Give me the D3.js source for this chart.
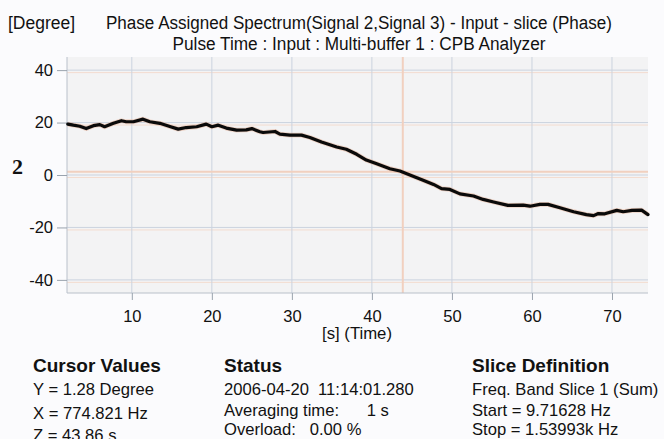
<!DOCTYPE html>
<html><head><meta charset="utf-8">
<script src="https://cdn.jsdelivr.net/npm/d3@7"></script>
<style>
html,body{margin:0;padding:0;background:#fbfbfd;}
svg{display:block;font-family:"Liberation Sans",Arial,Helvetica,sans-serif;}
</style></head>
<body><svg id="c" width="664" height="439"></svg>
<script>
// ---- data ----
const times = [2.0, 2.7, 3.5, 4.3, 5.2, 6.0, 6.6, 7.7, 8.7, 9.3, 10.2, 11.4, 12.25, 13.5, 14.75, 15.8, 16.8, 18.1, 19.3, 20.0, 20.8, 21.8, 23.1, 24.3, 25.0, 26.0, 26.4, 27.9, 28.5, 29.75, 31.2, 32.25, 33.7, 35.6, 36.8, 38.1, 39.3, 40.6, 42.25, 43.5, 44.75, 46.4, 47.7, 48.7, 49.75, 51.0, 52.7, 53.9, 55.2, 57.0, 58.9, 59.75, 61.0, 62.0, 63.5, 65.2, 66.8, 67.7, 68.3, 69.1, 70.6, 71.4, 72.5, 73.7, 74.5];
const phase = [19.4, 19.0, 18.6, 17.7, 18.8, 19.2, 18.4, 19.7, 20.7, 20.3, 20.3, 21.3, 20.3, 19.7, 18.5, 17.5, 18.1, 18.4, 19.4, 18.4, 19.0, 17.9, 17.1, 17.2, 17.7, 16.5, 16.2, 16.6, 15.6, 15.2, 15.2, 14.3, 12.6, 10.7, 9.8, 7.9, 5.7, 4.3, 2.4, 1.5, 0.0, -2.0, -3.6, -5.2, -5.5, -7.2, -8.0, -9.3, -10.3, -11.6, -11.5, -11.9, -11.2, -11.2, -12.5, -14.0, -15.1, -15.5, -14.7, -14.8, -13.5, -14.0, -13.5, -13.4, -15.1];
const xTicks = [10, 20, 30, 40, 50, 60, 70];
const yTicks = [-40, -20, 0, 20, 40];
const xDomain = [1.9, 74.5];
const yDomain = [-45, 45];
const cursorZ = 43.86;
const cursorY = 1.28;
const titleLines = ["Phase Assigned Spectrum(Signal 2,Signal 3) - Input - slice (Phase)", "Pulse Time : Input : Multi-buffer 1 : CPB Analyzer"];
const yUnit = "[Degree]";
const xLabel = "[s] (Time)";
const panels = [
  {head: "Cursor Values", lines: ["Y = 1.28 Degree", "X = 774.821 Hz", "Z = 43.86 s"]},
  {head: "Status", lines: ["2006-04-20  11:14:01.280", "Averaging time:      1 s", "Overload:   0.00 %"]},
  {head: "Slice Definition", lines: ["Freq. Band Slice 1 (Sum)", "Start = 9.71628 Hz", "Stop = 1.53993k Hz"]}
];

// ---- layout ----
const L = 67, R = 648, T = 57, B = 293;
const svg = d3.select("#c");
const x = d3.scaleLinear().domain(xDomain).range([L, R]);
const y = d3.scaleLinear().domain(yDomain).range([B, T]);
const fmt = d => String(d); // hyphen-minus like the reference

svg.append("rect").attr("x", L).attr("y", T).attr("width", R - L).attr("height", B - T).attr("fill", "#f3f3f4");

// grid
svg.append("g").selectAll("line").data(yTicks).join("line")
  .attr("x1", L).attr("x2", R).attr("y1", d => y(d) + 2.5).attr("y2", d => y(d) + 2.5)
  .attr("stroke", "#f3dcd0").attr("stroke-width", 1);
svg.append("g").selectAll("line").data(yTicks).join("line")
  .attr("x1", L).attr("x2", R).attr("y1", d => y(d)).attr("y2", d => y(d))
  .attr("stroke", "#cbd3df").attr("stroke-width", 1);
svg.append("g").selectAll("line").data(xTicks).join("line")
  .attr("y1", T).attr("y2", B).attr("x1", d => x(d)).attr("x2", d => x(d))
  .attr("stroke", "#cbd3df").attr("stroke-width", 1);

// cursor crosshair
svg.append("line").attr("x1", x(cursorZ)).attr("x2", x(cursorZ)).attr("y1", T).attr("y2", B)
  .attr("stroke", "#f1d0bf").attr("stroke-width", 2);
svg.append("line").attr("x1", L).attr("x2", R).attr("y1", y(cursorY)).attr("y2", y(cursorY))
  .attr("stroke", "#f1d0bf").attr("stroke-width", 2);

// border
svg.append("line").attr("x1", L).attr("x2", L).attr("y1", T).attr("y2", B).attr("stroke", "#b9c0ca");
svg.append("line").attr("x1", L).attr("x2", R).attr("y1", B).attr("y2", B).attr("stroke", "#b9c0ca");

// axes
const ya = svg.append("g").attr("transform", `translate(${L},0)`)
  .call(d3.axisLeft(y).tickValues(yTicks).tickSize(10).tickPadding(4).tickFormat(fmt));
const xa = svg.append("g").attr("transform", `translate(0,${B})`)
  .call(d3.axisBottom(x).tickValues(xTicks).tickSize(7).tickPadding(10).tickFormat(fmt));
[ya, xa].forEach(g => {
  g.select(".domain").remove();
  g.selectAll(".tick line").attr("stroke", "#9aa3ae");
  g.selectAll(".tick text").attr("fill", "#111").attr("font-size", 16.5)
    .attr("font-family", "'Liberation Sans',Arial,sans-serif");
});

// line
const data = times.map((t, i) => ({t, v: phase[i]}));
const line = d3.line().x(d => x(d.t)).y(d => y(d.v));
svg.append("path").datum(data).attr("d", line).attr("fill", "none")
  .attr("stroke", "#e8b49a").attr("stroke-width", 4.8).attr("stroke-linejoin", "round").attr("opacity", 0.55);
svg.append("path").datum(data).attr("d", line).attr("fill", "none")
  .attr("stroke", "#0a0a0a").attr("stroke-width", 3.2).attr("stroke-linejoin", "round").attr("stroke-linecap", "round");

// titles
svg.append("text").attr("x", 8).attr("y", 29).attr("font-size", 18).attr("fill", "#111")
  .attr("textLength", 67).attr("lengthAdjust", "spacingAndGlyphs").text(yUnit);
svg.append("text").attr("x", 359).attr("y", 29).attr("font-size", 18).attr("fill", "#111")
  .attr("text-anchor", "middle").attr("textLength", 506).attr("lengthAdjust", "spacingAndGlyphs").text(titleLines[0]);
svg.append("text").attr("x", 359).attr("y", 50).attr("font-size", 18).attr("fill", "#111")
  .attr("text-anchor", "middle").attr("textLength", 373).attr("lengthAdjust", "spacingAndGlyphs").text(titleLines[1]);
svg.append("text").attr("x", 357).attr("y", 339).attr("font-size", 17).attr("fill", "#111")
  .attr("text-anchor", "middle").attr("textLength", 70).attr("lengthAdjust", "spacingAndGlyphs").text(xLabel);

// side label
svg.append("text").attr("x", 12).attr("y", 174).attr("font-size", 22).attr("font-weight", "bold")
  .attr("font-family", "'Liberation Serif','Times New Roman',serif").attr("fill", "#111").text("2");

// bottom panels
const colX = [33, 224, 472];
const lineY = [[395, 419, 441], [395, 416, 435], [395, 416, 435]];
panels.forEach((p, i) => {
  svg.append("text").attr("x", colX[i]).attr("y", 372).attr("font-size", 19).attr("font-weight", "bold")
    .attr("fill", "#111").text(p.head);
  p.lines.forEach((s, j) => {
    svg.append("text").attr("x", colX[i]).attr("y", lineY[i][j]).attr("font-size", 16.6)
      .attr("fill", "#111").style("white-space", "pre").text(s);
  });
});
</script></body></html>
